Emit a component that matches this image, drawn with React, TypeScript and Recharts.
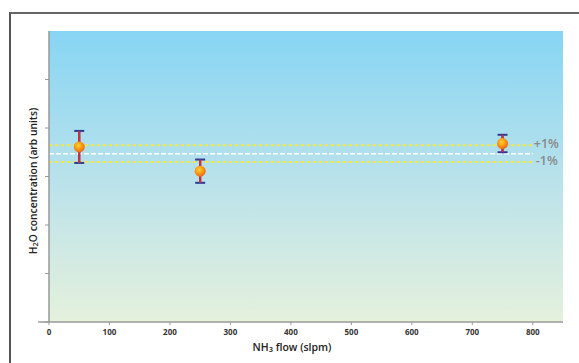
import { ComposedChart, Scatter, ErrorBar, XAxis, YAxis, ReferenceLine, CartesianGrid, Label } from "recharts"

// NH3 flow (slpm)
const flow = [50, 250, 750]
// H2O concentration (arb units) and error half-width
const conc = [3.61, 3.11, 3.68]
const err = [0.33, 0.24, 0.18]

const xTicks = [0, 100, 200, 300, 400, 500, 600, 700, 800]
const yTicks = [0, 1, 2, 3, 4, 5]

// mean level and the +/-1% band
const mean = 3.47
const upper = 3.645
const lower = 3.3
const bandEnd = 800

const points = flow.map((x, i) => ({ x, y: conc[i], err: err[i] }))

const font = "'Open Sans', 'DejaVu Sans', sans-serif"

function Ball(props: any) {
  const { cx, cy } = props
  if (cx == null || cy == null) return null
  return <circle cx={cx} cy={cy} r={5.5} fill="url(#ball)" />
}

function YTitle() {
  return (
    <text
      x={33}
      y={181}
      transform="rotate(-90, 33, 181)"
      textAnchor="middle"
      dominantBaseline="central"
      fontFamily={font}
      fontSize={10.3}
      fontWeight={600}
      fill="#222"
    >
      H<tspan fontSize={7.5} dy={2}>2</tspan>
      <tspan dy={-2}>O concentration (arb units)</tspan>
    </text>
  )
}

function XTitle() {
  return (
    <text
      x={292}
      y={347}
      textAnchor="middle"
      dominantBaseline="central"
      fontFamily={font}
      fontSize={10.5}
      fontWeight={600}
      fill="#222"
    >
      NH<tspan fontSize={7.5} dy={2}>3</tspan>
      <tspan dy={-2}> flow (slpm)</tspan>
    </text>
  )
}

export default function App() {
  return (
    <div style={{ position: "absolute", left: 0, top: 0, width: 579, height: 363, background: "#fff", overflow: "hidden" }}>
      <div
        style={{
          position: "absolute",
          left: 9,
          top: 12,
          width: 600,
          height: 400,
          borderTop: "2px solid #666",
          borderLeft: "2px solid #555",
        }}
      />
      <ComposedChart
        width={579}
        height={363}
        data={points}
        margin={{ top: 31, right: 16, bottom: 0, left: 10 }}
        style={{ position: "absolute", left: 0, top: 0 }}
      >
        <defs>
          <linearGradient id="bg" x1="0" y1="0" x2="0" y2="1">
            <stop offset="0%" stopColor="#87d5f4" />
            <stop offset="55%" stopColor="#bde3ea" />
            <stop offset="100%" stopColor="#e5f1dc" />
          </linearGradient>
          <radialGradient id="ball" cx="42%" cy="38%" r="60%">
            <stop offset="0%" stopColor="#ffd23a" />
            <stop offset="45%" stopColor="#ffa514" />
            <stop offset="100%" stopColor="#ee6a1a" />
          </radialGradient>
        </defs>
        <CartesianGrid horizontal={false} vertical={false} fill="url(#bg)" stroke="none" />
        <XAxis
          type="number"
          dataKey="x"
          domain={[0, 850]}
          ticks={xTicks}
          allowDataOverflow
          height={41}
          axisLine={false}
          tickSize={3}
          tickMargin={4}
          tickLine={{ stroke: "#999" }}
          tick={{ fontSize: 8, fontWeight: 700, fill: "#333", fontFamily: font }}
        >
          <Label content={<XTitle />} />
        </XAxis>
        <YAxis
          type="number"
          dataKey="y"
          domain={[0, 6]}
          ticks={yTicks}
          width={39}
          axisLine={{ stroke: "#999", strokeWidth: 1.5 }}
          tickSize={4}
          tickLine={{ stroke: "#999" }}
          tickFormatter={() => ""}
        >
          <Label content={<YTitle />} />
        </YAxis>
        <ReferenceLine
          segment={[{ x: -18, y: 0 }, { x: 850, y: 0 }]}
          ifOverflow="visible"
          stroke="#9a9a9a"
          strokeWidth={1.5}
        />
        <ReferenceLine
          segment={[{ x: 0, y: upper }, { x: bandEnd, y: upper }]}
          stroke="#f4e83a"
          strokeWidth={2}
          strokeDasharray="3 3"
          label={{ value: "+1%", position: "right", offset: 1, fill: "#8a8a8a", fontSize: 12.5, fontWeight: 600, fontFamily: font, dy: -2 }}
        />
        <ReferenceLine
          segment={[{ x: 0, y: mean }, { x: bandEnd, y: mean }]}
          stroke="#ffffff"
          strokeWidth={1.5}
          strokeDasharray="5 2"
        />
        <ReferenceLine
          segment={[{ x: 0, y: lower }, { x: bandEnd, y: lower }]}
          stroke="#f4e83a"
          strokeWidth={2}
          strokeDasharray="3 3"
          label={{ value: "-1%", position: "right", offset: 3, fill: "#8a8a8a", fontSize: 12.5, fontWeight: 600, fontFamily: font, dy: -1 }}
        />
        <Scatter data={points} dataKey="y" shape={<Ball />} isAnimationActive={false}>
          <ErrorBar dataKey="err" direction="y" width={5} stroke="#2e3a94" strokeWidth={2} />
          <ErrorBar dataKey="err" direction="y" width={0} stroke="#cc2f3a" strokeWidth={2.2} />
        </Scatter>
      </ComposedChart>
    </div>
  )
}
